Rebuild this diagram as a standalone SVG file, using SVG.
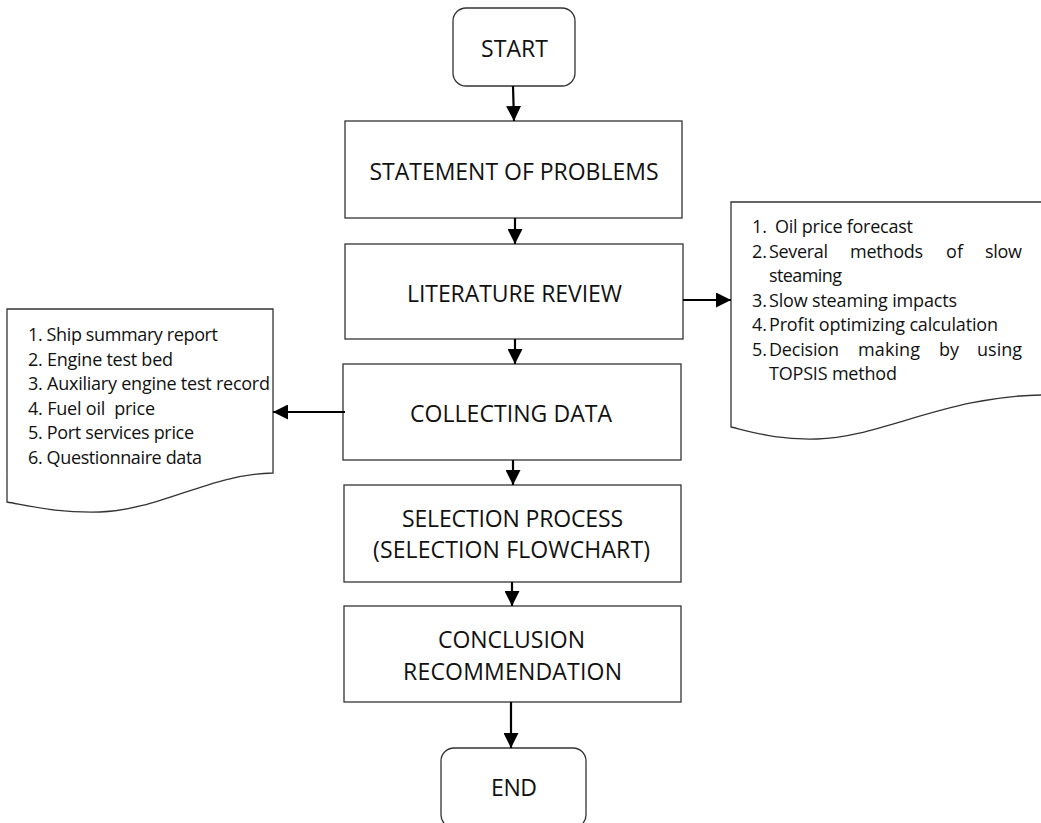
<svg xmlns="http://www.w3.org/2000/svg" width="1041" height="823" viewBox="0 0 1041 823">
<style>
.box{fill:#fff;stroke:#333;stroke-width:1.3}
.t{font-family:"Open Sans","Noto Sans",sans-serif;font-size:23px;fill:#111;text-anchor:middle}
.l{font-family:"Open Sans","Noto Sans",sans-serif;font-size:18px;fill:#111}
.c{stroke:#000;stroke-width:2.2;fill:none;marker-end:url(#ah)}
</style>
<defs>
<marker id="ah" viewBox="0 0 15 15" markerWidth="15" markerHeight="15" refX="15" refY="7.5" orient="auto" markerUnits="userSpaceOnUse">
<path d="M0,0 L15,7.5 L0,15 Z" fill="#000"/>
</marker>
</defs>
<rect width="1041" height="823" fill="#fff"/>
<g id="start"><rect class="box" x="453" y="8" width="122" height="78" rx="13"/><text class="t" x="514.5" y="57" textLength="67">START</text></g>
<g id="statement"><rect class="box" x="345" y="121" width="337" height="97"/><text class="t" x="514" y="180" textLength="289">STATEMENT OF PROBLEMS</text></g>
<g id="literature"><rect class="box" x="345" y="244" width="338" height="95"/><text class="t" x="514.5" y="302" textLength="215">LITERATURE REVIEW</text></g>
<g id="collecting"><rect class="box" x="343" y="364" width="338" height="96"/><text class="t" x="511" y="422" textLength="202">COLLECTING DATA</text></g>
<g id="selection"><rect class="box" x="344" y="485" width="337" height="97"/><text class="t" x="512.5" y="527" textLength="221">SELECTION PROCESS</text><text class="t" x="511.5" y="558" textLength="277">(SELECTION FLOWCHART)</text></g>
<g id="conclusion"><rect class="box" x="344" y="606" width="337" height="96"/><text class="t" x="511.5" y="648" textLength="147">CONCLUSION</text><text class="t" x="512.5" y="680" textLength="219">RECOMMENDATION</text></g>
<g id="end"><rect class="box" x="441" y="748" width="145" height="80" rx="13"/><text class="t" x="514" y="796" textLength="46">END</text></g>
<g id="data-doc">
<path class="box" d="M7,309 H273 V473 C210,474 160,510 100,512 C60,513 35,507 7,502 Z"/>
<text class="l" x="28" y="341" textLength="190">1. Ship summary report</text>
<text class="l" x="28" y="365.5" textLength="145">2. Engine test bed</text>
<text class="l" x="28" y="390" textLength="242">3. Auxiliary engine test record</text>
<text class="l" x="28" y="414.5" textLength="127" xml:space="preserve">4. Fuel oil  price</text>
<text class="l" x="28" y="439" textLength="166">5. Port services price</text>
<text class="l" x="28" y="463.5" textLength="174">6. Questionnaire data</text>
</g>
<g id="review-doc">
<path class="box" d="M731,202 H1048 V395 C950,394 880,438 817,439 C780,440 760,434 731,427 Z"/>
<text class="l" x="752" y="233">1.</text><text class="l" x="775" y="233" textLength="138">Oil price forecast</text>
<text class="l" x="752" y="257.5">2.</text><text class="l" x="769" y="257.5" textLength="59">Several</text><text class="l" x="850" y="257.5" textLength="73">methods</text><text class="l" x="946" y="257.5" textLength="17">of</text><text class="l" x="985" y="257.5" textLength="37">slow</text>
<text class="l" x="769" y="282" textLength="73">steaming</text>
<text class="l" x="752" y="306.5">3.</text><text class="l" x="769" y="306.5" textLength="188">Slow steaming impacts</text>
<text class="l" x="752" y="331">4.</text><text class="l" x="769" y="331" textLength="229">Profit optimizing calculation</text>
<text class="l" x="752" y="355.5">5.</text><text class="l" x="769" y="355.5" textLength="70">Decision</text><text class="l" x="858" y="355.5" textLength="62">making</text><text class="l" x="939" y="355.5" textLength="20">by</text><text class="l" x="977" y="355.5" textLength="45">using</text>
<text class="l" x="769" y="380" textLength="128">TOPSIS method</text>
</g>
<g id="connectors">
<line class="c" x1="513" y1="86" x2="514" y2="121"/>
<line class="c" x1="515" y1="218" x2="515" y2="244"/>
<line class="c" x1="683" y1="300" x2="731" y2="300"/>
<line class="c" x1="515" y1="339" x2="515" y2="364"/>
<line class="c" x1="345" y1="412" x2="273" y2="412"/>
<line class="c" x1="513" y1="460" x2="513" y2="485"/>
<line class="c" x1="512" y1="582" x2="512" y2="606"/>
<line class="c" x1="511" y1="702" x2="511" y2="748"/>
</g>
</svg>
